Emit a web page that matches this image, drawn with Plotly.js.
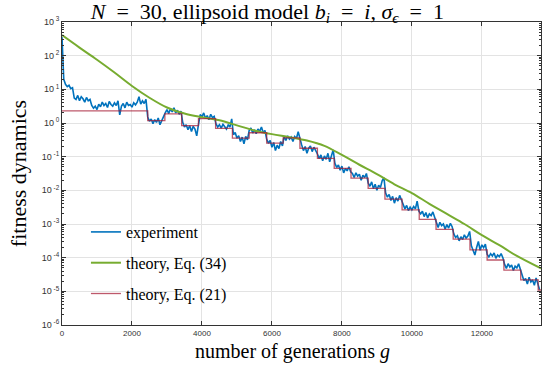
<!DOCTYPE html>
<html>
<head>
<meta charset="utf-8">
<script src="https://cdn.plot.ly/plotly-3.0.1.min.js"></script>
<style>html,body{margin:0;padding:0;background:#fff;}#chart{width:549px;height:368px;}</style>
</head>
<body>
<div id="chart"></div>
<script>
// ---- data (stored as log10 of fitness) ----
// experiment: sampled every 50 generations, rows of 500 generations
const expStep = 50;
const expLog10 = [
  2.55, 1.30, 1.15, 1.08, 1.12, 1.02, 1.05, 0.74, 0.70, 0.82,
  0.66, 0.78, 0.72, 0.62, 0.76, 0.66, 0.70, 0.52, 0.44, 0.50,
  0.40, 0.56, 0.48, 0.62, 0.52, 0.58, 0.46, 0.64, 0.55, 0.50,
  0.60, 0.52, 0.66, 0.24, 0.50, 0.58, 0.45, 0.62, 0.52, 0.55,
  0.47, 0.60, 0.54, 0.62, 0.78, 0.56, 0.66, 0.58, 0.70, 0.18,
  0.05, 0.12, -0.02, 0.10, 0.02, 0.15, -0.05, 0.08, 0.20, 0.30,
  0.40, 0.28, 0.42, 0.33, 0.45, 0.30, 0.38, 0.26, 0.35, 0.02,
  -0.12, -0.05, -0.20, -0.08, -0.25, -0.10, -0.18, -0.38, -0.05, 0.25,
  0.18, 0.30, 0.14, 0.22, 0.10, 0.26, 0.16, 0.20, -0.02, -0.12,
  -0.05, -0.15, -0.04, -0.10, -0.18, -0.06, -0.12, 0.12, -0.35, -0.28,
  -0.45, -0.38, -0.55, -0.42, -0.62, -0.40, -0.50, -0.22, -0.15, -0.30,
  -0.20, -0.32, -0.18, -0.25, -0.12, -0.28, -0.22, -0.48, -0.60, -0.52,
  -0.72, -0.58, -0.82, -0.66, -0.76, -0.55, -0.68, -0.40, -0.52, -0.38,
  -0.48, -0.42, -0.55, -0.40, -0.46, -0.26, -0.50, -0.65, -0.82, -0.70,
  -0.90, -0.75, -0.68, -0.85, -0.72, -0.80, -0.92, -1.05, -0.95, -1.12,
  -0.98, -1.08, -0.90, -1.15, -1.00, -0.80, -1.20, -1.32, -1.25, -1.40,
  -1.28, -1.48, -1.35, -1.42, -1.30, -1.45, -1.50, -1.62, -1.48, -1.58,
  -1.52, -1.70, -1.55, -1.62, -1.50, -1.78, -1.88, -1.75, -1.95, -1.82,
  -2.00, -1.85, -1.92, -1.72, -1.62, -2.08, -2.20, -2.12, -2.30, -2.18,
  -2.38, -2.22, -2.32, -2.15, -2.28, -2.42, -2.55, -2.45, -2.60, -2.50,
  -2.58, -2.48, -2.55, -2.32, -2.62, -2.70, -2.62, -2.78, -2.66, -2.82,
  -2.70, -2.75, -2.64, -2.80, -2.98, -3.10, -2.95, -3.05, -3.00, -3.15,
  -3.02, -3.12, -2.98, -3.08, -3.30, -3.40, -3.35, -3.50, -3.38, -3.46,
  -3.32, -3.42, -3.36, -3.22, -3.65, -3.82, -3.92, -3.70, -3.52, -3.78,
  -3.62, -3.70, -3.60, -3.90, -3.98, -3.88, -3.95, -3.86, -4.02, -3.92,
  -3.97, -3.88, -4.00, -4.20, -4.32, -4.18, -4.28, -4.22, -4.38, -4.25,
  -4.30, -4.18, -4.35, -4.55, -4.68, -4.62, -4.78, -4.58, -4.72, -4.66,
  -4.82, -4.60, -4.75, -4.95
];
// theory, Eq. (34)
const theory34Gen = [0, 500, 1000, 1500, 2000, 2500, 3000, 3500, 4000, 4500, 5000, 5500, 6000, 6500,
  7000, 7500, 8000, 8500, 9000, 9500, 10000, 10500, 11000, 11500, 12000, 12500, 13000, 13690];
const theory34Log10 = [2.61, 2.24, 1.88, 1.50, 1.10, 0.75, 0.46, 0.28, 0.17, 0.08, -0.07, -0.22, -0.33, -0.42,
  -0.52, -0.68, -0.95, -1.24, -1.52, -1.82, -2.08, -2.40, -2.70, -3.00, -3.33, -3.63, -3.95, -4.32];
// theory, Eq. (21): piecewise constant
const theory21Gen = [0, 2450, 2940, 3420, 3900, 4390, 4870, 5350, 5850, 6320, 6800, 7300, 7780, 8260,
  8750, 9230, 9720, 10210, 10690, 11180, 11660, 12150, 12630, 13110, 13610, 13690];
const theory21Log10 = [0.36, 0.07, 0.27, -0.08, 0.13, -0.16, -0.45, -0.29, -0.60, -0.44, -0.75, -1.05, -1.35, -1.64,
  -1.94, -2.26, -2.58, -2.86, -3.16, -3.45, -3.77, -4.07, -4.37, -4.66, -4.96, -4.96];
const xTickVals = [0, 2000, 4000, 6000, 8000, 10000, 12000];
const yTickExps = [-6, -5, -4, -3, -2, -1, 0, 1, 2, 3];
const seriesNames = ['experiment', 'theory, Eq. (34)', 'theory, Eq. (21)'];

// ---- build traces ----
const pow10 = a => a.map(v => Math.pow(10, v));
const expGen = expLog10.map((_, i) => i * expStep);
const serif = 'Liberation Serif, Times New Roman, serif';
const sans = 'Liberation Sans, Arial, sans-serif';

const traces = [
  {x: expGen, y: pow10(expLog10), name: seriesNames[0], type: 'scatter', mode: 'lines',
   line: {color: '#0072BD', width: 1.6}, legendgroup: 'a'},
  {x: theory34Gen, y: pow10(theory34Log10), name: seriesNames[1], type: 'scatter', mode: 'lines',
   line: {color: '#77AC30', width: 2, shape: 'spline'}, legendgroup: 'b'},
  {x: theory21Gen, y: pow10(theory21Log10), name: seriesNames[2], type: 'scatter', mode: 'lines',
   line: {color: 'rgba(165,25,50,0.72)', width: 1.3, shape: 'hv'}, legendgroup: 'c'}
];

const axisCommon = {
  showline: true, linecolor: '#333', linewidth: 1, mirror: 'ticks',
  ticks: 'inside', ticklen: 4, tickcolor: '#333',
  showgrid: true, gridcolor: '#e3e3e3', gridwidth: 1, zeroline: false
};

const eq = '&nbsp;&nbsp;=&nbsp;&nbsp;';
const layout = {
  width: 549, height: 368,
  margin: {l: 62, r: 8, t: 22, b: 43},
  paper_bgcolor: '#fff', plot_bgcolor: '#fff',
  title: {text: '<i>N</i>' + eq + '30, ellipsoid model <i>b<sub>i</sub></i>' + eq + '<i>i</i>, <i>σ<sub>ϵ</sub></i>' + eq + '1',
          font: {family: serif, size: 22, color: '#000'}, x: 0.487, xanchor: 'center', xref: 'container',
          y: 0.97, yanchor: 'middle', yref: 'container'},
  xaxis: Object.assign({}, axisCommon, {
    range: [0, 13690], tickvals: xTickVals, ticktext: xTickVals.map(String),
    tickfont: {family: sans, size: 8, color: '#333'}
  }),
  yaxis: Object.assign({}, axisCommon, {
    type: 'log', range: [-6, 3],
    tickvals: yTickExps.map(e => Math.pow(10, e)),
    ticktext: yTickExps.map(e => '10<sup> ' + e + '</sup>'),
    tickfont: {family: sans, size: 9, color: '#333'},
    minor: {ticks: 'inside', ticklen: 2, tickcolor: '#333', dtick: 'D1', showgrid: false},
    title: {text: 'fitness dynamics', font: {family: serif, size: 22, color: '#000'}, standoff: 9}
  }),
  annotations: [{
    text: 'number of generations <i>g</i>', xref: 'paper', yref: 'paper',
    x: 0.481, y: -0.087, xanchor: 'center', yanchor: 'middle', showarrow: false, borderpad: 0,
    font: {family: serif, size: 20, color: '#000'}
  }],
  showlegend: true,
  legend: {x: 0.05, xanchor: 'left', y: 0.363, yanchor: 'top', bgcolor: 'rgba(0,0,0,0)',
           font: {family: serif, size: 16, color: '#000'}, tracegroupgap: 7, traceorder: 'grouped'}
};

Plotly.newPlot('chart', traces, layout, {displayModeBar: false, staticPlot: true});
</script>
</body>
</html>
